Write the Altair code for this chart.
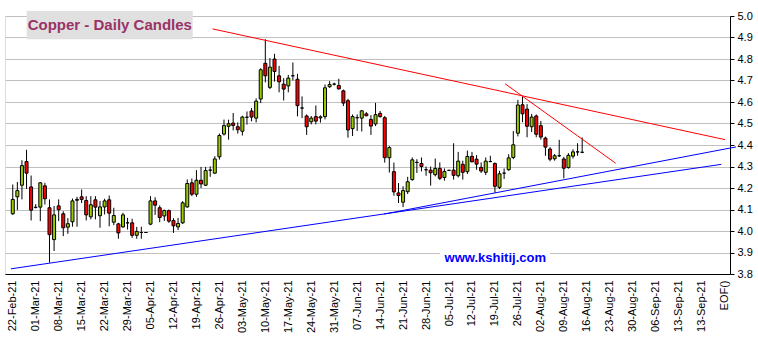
import altair as alt
import pandas as pd

# Weekly tick labels (every 5 trading days), last two as in the source chart
week_labels = ["22-Feb-21", "01-Mar-21", "08-Mar-21", "15-Mar-21", "22-Mar-21", "29-Mar-21",
               "05-Apr-21", "12-Apr-21", "19-Apr-21", "26-Apr-21", "03-May-21", "10-May-21",
               "17-May-21", "24-May-21", "31-May-21", "07-Jun-21", "14-Jun-21", "21-Jun-21",
               "28-Jun-21", "05-Jul-21", "12-Jul-21", "19-Jul-21", "26-Jul-21", "02-Aug-21",
               "09-Aug-21", "16-Aug-21", "23-Aug-21", "30-Aug-21", "06-Sep-21", "13-Sep-21",
               "13-Sep-21", "EOF()"]

# Daily OHLC (trading-day index 0 = 22-Feb-21)
opens = [4.080, 4.159, 4.213, 4.323, 4.205, 4.110, 4.111, 4.210, 4.108, 3.960,
         4.117, 4.080, 4.018, 4.043, 4.143, 4.159, 4.142, 4.066, 4.145, 4.071,
         4.112, 4.145, 4.041, 4.033, 4.019, 4.038, 4.038, 3.980, 3.993, 3.993,
         4.032, 4.140, 4.108, 4.070, 4.095, 4.049, 4.019, 4.038, 4.112, 4.224,
         4.171, 4.236, 4.213, 4.283, 4.269, 4.345, 4.451, 4.487, 4.502, 4.485,
         4.464, 4.529, 4.558, 4.525, 4.614, 4.780, 4.668, 4.800, 4.722, 4.683,
         4.675, 4.722, 4.706, 4.572, 4.535, 4.508, 4.532, 4.526, 4.532, 4.671,
         4.683, 4.677, 4.652, 4.606, 4.476, 4.527, 4.525, 4.545, 4.519, 4.498,
         4.547, 4.527, 4.341, 4.276, 4.177, 4.134, 4.183, 4.239, 4.319, 4.314,
         4.285, 4.283, 4.262, 4.291, 4.249, 4.282, 4.283, 4.257, 4.310, 4.276,
         4.347, 4.334, 4.296, 4.273, 4.323, 4.314, 4.203, 4.269, 4.285, 4.342,
         4.455, 4.587, 4.567, 4.485, 4.535, 4.490, 4.432, 4.381, 4.336, 4.350,
         4.335, 4.295, 4.348, 4.368, 4.366]
highs = [4.216, 4.228, 4.329, 4.378, 4.258, 4.125, 4.228, 4.224, 4.147, 4.116,
         4.147, 4.092, 4.060, 4.151, 4.159, 4.193, 4.162, 4.162, 4.162, 4.140,
         4.150, 4.165, 4.108, 4.038, 4.085, 4.061, 4.057, 4.019, 4.020, 3.993,
         4.162, 4.157, 4.119, 4.100, 4.100, 4.060, 4.061, 4.139, 4.240, 4.244,
         4.283, 4.298, 4.298, 4.301, 4.348, 4.453, 4.518, 4.518, 4.549, 4.505,
         4.536, 4.556, 4.572, 4.617, 4.757, 4.892, 4.804, 4.824, 4.768, 4.711,
         4.726, 4.784, 4.731, 4.626, 4.542, 4.535, 4.584, 4.538, 4.681, 4.697,
         4.690, 4.708, 4.658, 4.615, 4.542, 4.542, 4.562, 4.553, 4.539, 4.596,
         4.558, 4.535, 4.395, 4.318, 4.223, 4.208, 4.252, 4.342, 4.334, 4.342,
         4.300, 4.300, 4.337, 4.319, 4.291, 4.285, 4.408, 4.368, 4.327, 4.374,
         4.368, 4.353, 4.319, 4.342, 4.350, 4.319, 4.280, 4.291, 4.357, 4.465,
         4.610, 4.625, 4.590, 4.545, 4.542, 4.512, 4.439, 4.390, 4.358, 4.424,
         4.345, 4.362, 4.380, 4.408, 4.435]
lows = [4.075, 4.097, 4.147, 4.196, 4.049, 4.105, 4.046, 4.123, 3.853, 3.907,
        4.046, 3.976, 3.987, 4.020, 4.020, 4.130, 4.049, 4.054, 4.054, 4.015,
        4.077, 4.022, 4.027, 3.964, 4.015, 4.007, 3.968, 3.964, 3.964, 3.993,
        4.027, 4.075, 4.041, 4.047, 4.038, 3.991, 4.004, 4.033, 4.108, 4.162,
        4.159, 4.200, 4.209, 4.252, 4.266, 4.332, 4.444, 4.425, 4.468, 4.453,
        4.444, 4.495, 4.510, 4.505, 4.595, 4.691, 4.660, 4.695, 4.645, 4.607,
        4.645, 4.700, 4.533, 4.525, 4.447, 4.496, 4.496, 4.504, 4.519, 4.666,
        4.677, 4.658, 4.581, 4.434, 4.442, 4.465, 4.463, 4.534, 4.447, 4.488,
        4.527, 4.318, 4.272, 4.164, 4.130, 4.111, 4.172, 4.234, 4.270, 4.277,
        4.257, 4.211, 4.254, 4.237, 4.234, 4.279, 4.239, 4.249, 4.239, 4.265,
        4.319, 4.285, 4.270, 4.260, 4.320, 4.177, 4.195, 4.242, 4.280, 4.334,
        4.440, 4.506, 4.436, 4.460, 4.436, 4.425, 4.350, 4.324, 4.327, 4.344,
        4.245, 4.290, 4.337, 4.350, 4.362]
closes = [4.147, 4.188, 4.304, 4.269, 4.097, 4.110, 4.224, 4.150, 3.983, 4.075,
          4.099, 4.015, 4.034, 4.140, 4.147, 4.147, 4.075, 4.122, 4.111, 4.112,
          4.140, 4.083, 4.072, 3.991, 4.075, 4.038, 3.980, 3.998, 3.993, 3.993,
          4.140, 4.120, 4.063, 4.095, 4.046, 4.024, 4.035, 4.131, 4.221, 4.171,
          4.236, 4.219, 4.281, 4.283, 4.335, 4.444, 4.490, 4.499, 4.491, 4.471,
          4.530, 4.529, 4.530, 4.604, 4.750, 4.722, 4.762, 4.742, 4.694, 4.660,
          4.711, 4.722, 4.583, 4.572, 4.485, 4.525, 4.511, 4.531, 4.666, 4.681,
          4.683, 4.661, 4.595, 4.470, 4.532, 4.527, 4.559, 4.536, 4.488, 4.541,
          4.532, 4.341, 4.388, 4.182, 4.165, 4.188, 4.229, 4.331, 4.319, 4.300,
          4.285, 4.271, 4.291, 4.245, 4.277, 4.282, 4.259, 4.325, 4.273, 4.347,
          4.322, 4.311, 4.279, 4.325, 4.323, 4.208, 4.266, 4.269, 4.340, 4.401,
          4.586, 4.545, 4.487, 4.530, 4.450, 4.437, 4.390, 4.334, 4.350, 4.350,
          4.292, 4.352, 4.368, 4.368, 4.366]

# Trend lines: (trading-day index, price) end points
trend_names = ["r1", "r1", "r2", "r2", "b1", "b1", "b2", "b2"]
trend_i = [43.5, 155.1, 107.2, 131.3, -0.4, 154.3, 80.9, 157.5]
trend_p = [4.940, 4.425, 4.685, 4.315, 3.824, 4.310, 4.079, 4.391]
trend_colors = ["#ff0000", "#ff0000", "#0000ff", "#0000ff"]

y_ticks = [round(3.8 + 0.1 * k, 1) for k in range(13)]

df = pd.DataFrame({"i": list(range(len(opens))), "o": opens, "h": highs, "l": lows, "c": closes})
df["dir"] = ["up" if c >= o else "down" for o, c in zip(opens, closes)]
lines_df = pd.DataFrame({"g": trend_names, "i": trend_i, "p": trend_p})

FONT = "Liberation Sans"
label_expr = "[" + ",".join("'" + s + "'" for s in week_labels) + "][round(datum.value/5)]"

x_scale = alt.Scale(domain=[-0.6, 155.1], nice=False, zero=False)
y_scale = alt.Scale(domain=[3.8, 5.0], nice=False, zero=False)

x_axis = alt.Axis(values=list(range(0, 5 * len(week_labels), 5)), labelExpr=label_expr,
                  labelAngle=-90, ticks=False, grid=False, title=None, labelPadding=6,
                  labelFontSize=11, labelFont=FONT, labelColor="black", domainColor="black",
                  labelOverlap=False, labelFlush=False)
y_axis = alt.Axis(orient="right", values=y_ticks, format=".1f", grid=True, gridColor="#c0c0c0",
                  tickColor="black", tickSize=4, labelPadding=3, domainColor="black", title=None,
                  labelFontSize=11, labelFont=FONT, labelColor="black", labelOverlap=False,
                  labelFlush=False)

base = alt.Chart(df)

wicks = base.mark_rule(color="black", strokeWidth=1).encode(
    x=alt.X("i:Q", scale=x_scale, axis=x_axis),
    y=alt.Y("l:Q", scale=y_scale, axis=y_axis),
    y2="h:Q",
)

bodies = base.mark_bar(size=3, stroke="black", strokeWidth=1).encode(
    x=alt.X("i:Q", scale=x_scale, axis=x_axis),
    y=alt.Y("o:Q", scale=y_scale, axis=y_axis),
    y2="c:Q",
    color=alt.Color("dir:N", scale=alt.Scale(domain=["up", "down"], range=["#99cc00", "#ff0000"]),
                    legend=None),
)

trend = alt.Chart(lines_df).mark_line(strokeWidth=1).encode(
    x=alt.X("i:Q", scale=x_scale, axis=x_axis),
    y=alt.Y("p:Q", scale=y_scale, axis=y_axis),
    color=alt.Color("g:N", scale=alt.Scale(domain=["r1", "r2", "b1", "b2"], range=trend_colors),
                    legend=None),
    detail="g:N",
)

one = pd.DataFrame({"t": ["Copper - Daily Candles"]})
title_box = alt.Chart(one).mark_rect(color="#e0e0e0").encode(
    x=alt.value(21.7), x2=alt.value(187.7), y=alt.value(-5), y2=alt.value(23.3))
title_txt = alt.Chart(one).mark_text(font=FONT, fontSize=15, fontWeight="bold", color="#993366",
                                     align="center", baseline="alphabetic").encode(
    text="t:N", x=alt.value(104.8), y=alt.value(13.6))

wm = pd.DataFrame({"t": ["www.kshitij.com"]})
wm_box = alt.Chart(wm).mark_rect(color="white").encode(
    x=alt.value(435), x2=alt.value(545), y=alt.value(231), y2=alt.value(249))
wm_txt = alt.Chart(wm).mark_text(font=FONT, fontSize=13, fontWeight="bold", color="#0000ff",
                                 align="center", baseline="alphabetic").encode(
    text="t:N", x=alt.value(490.3), y=alt.value(245.5))

chart = alt.layer(wicks, bodies, trend, title_box, title_txt, wm_box, wm_txt).resolve_scale(
    color="independent"
).properties(
    width=725, height=258,
    autosize=alt.AutoSizeParams(type="none"),
    padding={"left": 5, "top": 16, "right": 28, "bottom": 66},
).configure_view(stroke=None).configure(background="white")

chart.save("out.html", embed_options={"renderer": "svg", "actions": False})
